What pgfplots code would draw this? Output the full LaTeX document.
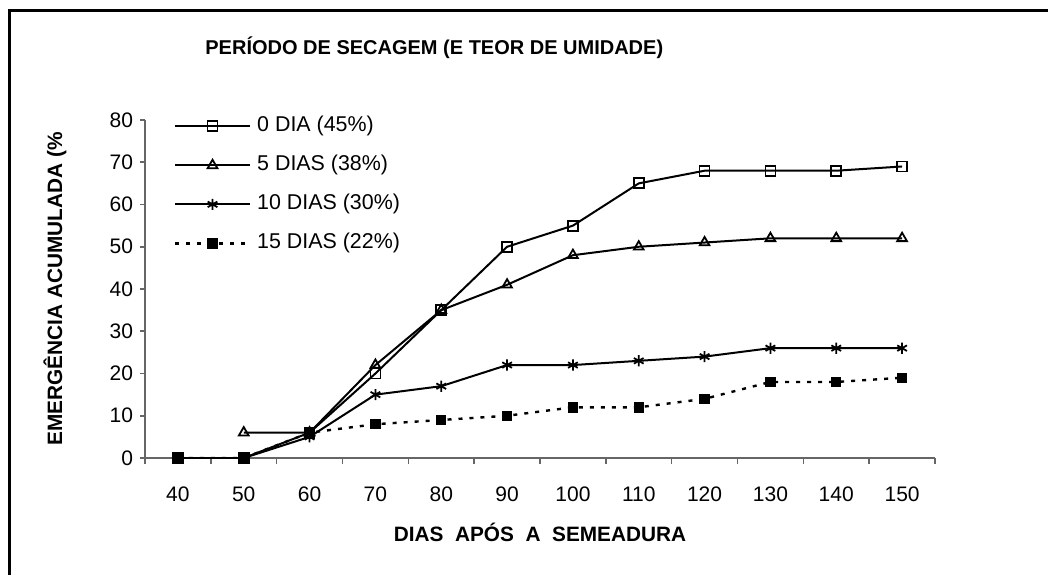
\documentclass[border=0pt]{standalone}
\usepackage{fontspec}
\setmainfont{Liberation Sans}
\usepackage{pgfplots}
\pgfplotsset{compat=1.18}
\begin{document}
\begin{tikzpicture}[x=1pt,y=1pt]
\path[use as bounding box] (0,0) rectangle (524,287);
\draw[line width=1.3pt] (4.8,-2) -- (4.8,281.6) -- (526,281.6);
\node[anchor=west,font=\bfseries\fontsize{10}{11}\selectfont,inner sep=0pt] at (102.5,263) {PERÍODO DE SECAGEM (E TEOR DE UMIDADE)};
\begin{axis}[
  at={(72.5pt,58pt)}, anchor=south west,
  scale only axis, width=395pt, height=169pt,
  xmin=35, xmax=155, ymin=0, ymax=80,
  axis lines*=left,
  axis line style={draw=gray!80!black, line width=0.8pt},
  xtick={40,50,...,150},
  minor xtick={35,45,...,155},
  ytick={0,10,...,80},
  tick align=outside,
  major tick length=2.5pt,
  minor tick length=3pt,
  tick style={draw=gray!80!black, line width=0.8pt},
  major x tick style={draw=none},
  ticklabel style={font=\fontsize{10.5}{12}\selectfont},
  xticklabel style={yshift=-8.5pt},
  /pgf/number format/assume math mode=true,
  xlabel={DIAS\ \ APÓS\ \ A\ \ SEMEADURA},
  ylabel={EMERGÊNCIA ACUMULADA (\%},
  label style={font=\bfseries\fontsize{10.4}{12}\selectfont},
  xlabel style={at={(axis description cs:0.5,-0.22)}, anchor=center},
  ylabel style={at={(axis description cs:-0.114,0.5)}, anchor=center},
  legend image code/.code={\draw[mark repeat=2,mark phase=2,#1] plot coordinates {(0pt,0pt) (18.75pt,0pt) (37.5pt,0pt)};},
  legend style={at={(axis description cs:0.036,1.012)}, anchor=north west, draw=none, fill=none,
    inner sep=0pt, row sep=9.5pt, font=\fontsize{10.7}{12}\selectfont,
    nodes={inner sep=0pt, text height=7.5pt, text depth=2.5pt},
    /tikz/every odd column/.append style={column sep=3pt}},
  legend cell align=left,
  every axis plot/.append style={black, line width=1pt},
]
\addplot[mark=square, mark size=2.5pt, mark options={fill=white, line width=0.9pt}] coordinates {
(40,0) (50,0) (60,6) (70,20) (80,35) (90,50) (100,55) (110,65) (120,68) (130,68) (140,68) (150,69)};
\addlegendentry{0 DIA (45\%)}
\addplot[mark=triangle, mark size=2.8pt, mark options={fill=white, line width=0.9pt}] coordinates {
(50,6) (60,6) (70,22) (80,35) (90,41) (100,48) (110,50) (120,51) (130,52) (140,52) (150,52)};
\addlegendentry{5 DIAS (38\%)}
\addplot[mark=asterisk, mark size=2.8pt, mark options={line width=0.9pt}] coordinates {
(40,0) (50,0) (60,5) (70,15) (80,17) (90,22) (100,22) (110,23) (120,24) (130,26) (140,26) (150,26)};
\addlegendentry{10 DIAS (30\%)}
\addplot[mark=square*, mark size=2pt, line width=1.2pt, dash pattern=on 2pt off 3.5pt, mark options={solid}] coordinates {
(40,0) (50,0) (60,6) (70,8) (80,9) (90,10) (100,12) (110,12) (120,14) (130,18) (140,18) (150,19)};
\addlegendentry{15 DIAS (22\%)}
\end{axis}
\end{tikzpicture}
\end{document}
